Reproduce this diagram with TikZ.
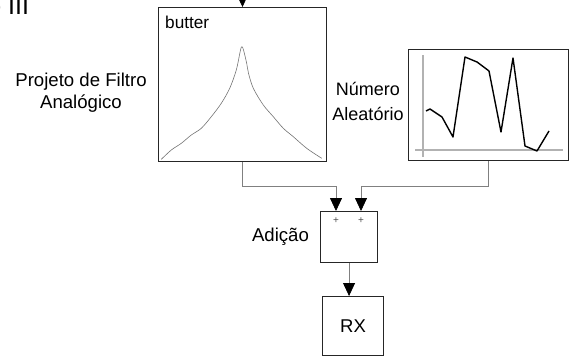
\documentclass[tikz,border=0pt]{standalone}
\usepackage{fontspec}
\setmainfont{Liberation Sans}
\usetikzlibrary{arrows.meta}
\begin{document}
\begin{tikzpicture}[x=1pt,y=-1pt,
  box/.style={draw=black!85,line width=1.1pt,inner sep=0pt,anchor=north west},
  conn/.style={draw=black!50,line width=0.8pt,-{Triangle[length=13pt,width=12pt,black]}},
  lbl/.style={inner sep=0pt,align=center,font=\fontsize{18.6}{22}\selectfont},
  curve/.style={draw=black!55,line width=0.6pt},
  axis/.style={draw=black!30,line width=1.3pt},
  sig/.style={draw=black,line width=1.4pt,line join=round},
  plus/.style={inner sep=0pt,font=\fontsize{10}{12}\selectfont,text=black!70}]
\useasboundingbox (0,0) rectangle (587,356);
\clip (0,0) rectangle (587,356);
% cut-off title
\node[inner sep=0pt,anchor=base west,font=\fontsize{25}{30}\selectfont] (title) at (-12.8,14.5) {o III};
% boxes
\node[box,minimum width=168pt,minimum height=154pt] (butter) at (158,7) {};
\node[box,minimum width=160pt,minimum height=111pt] (rnd) at (408,49) {};
\node[box,minimum width=57pt,minimum height=51pt] (add) at (320,211) {};
\node[box,minimum width=61pt,minimum height=59pt,font=\fontsize{18.5}{22}\selectfont] (rx) at (322,296) {RX};
% box contents
\node[inner sep=0pt,anchor=base west,font=\fontsize{17.2}{20}\selectfont] (btxt) at (165,28) {butter};
\draw[curve] plot[smooth,tension=0.5] coordinates {(161.3,159.3) (171.3,150) (181.3,143.3) (191.3,135) (201.3,128.3) (211.3,116.7) (221.3,103.3) (229.7,88.3) (236.3,70) (240.5,50) (242,46.7) (243.5,50) (246.7,63.3) (248.5,73.3) (253.3,88.3) (263.3,105) (273.3,116.7) (283.3,128.3) (293.3,136.7) (306.7,148.3) (321.7,158.3)};
\draw[axis] (423,55) -- (423,157);
\draw[axis] (415,150) -- (563,150);
\draw[sig] (426,111) -- (430,109) -- (442,117) -- (453,137) -- (465,57) -- (477,62) -- (489,71) -- (501,132) -- (513,58) -- (525,146) -- (537,151) -- (549,131);
\node[plus] (p1) at (336,221) {+};
\node[plus] (p2) at (361,221) {+};
% labels
\node[lbl] (lfilt) at (81,92.4) {Projeto de Filtro\\Analógico};
\node[lbl,font=\fontsize{18}{24.4}\selectfont] (lrnd) at (368,101.5) {Número\\Aleatório};
\node[lbl,anchor=base] (ladd) at (280.5,241) {Adição};
% connectors
\coordinate (topin) at (242,-30);
\coordinate (in1) at (336,211);
\coordinate (in2) at (361,211);
\draw[conn] (topin) -- (butter.north);
\draw[conn] (butter.south) -- ++(0,24) -| (in1);
\draw[conn] (rnd.south) -- ++(0,25) -| (in2);
\draw[conn] (add.south) -- (add.south |- rx.north);
\end{tikzpicture}
\end{document}
